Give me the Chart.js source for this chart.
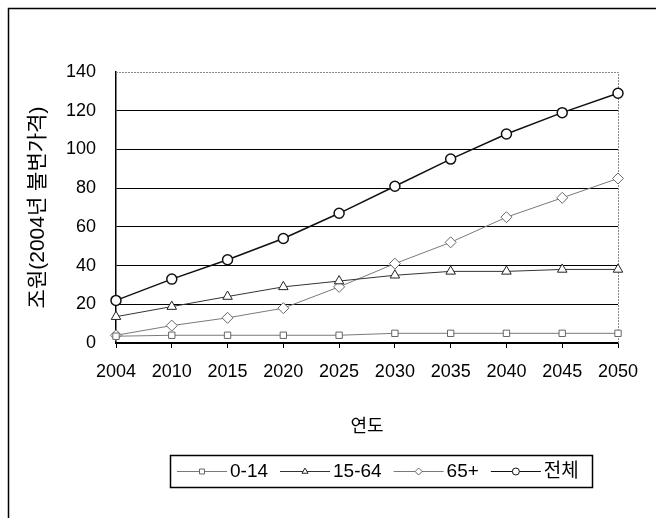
<!DOCTYPE html>
<html lang="ko">
<head>
<meta charset="utf-8">
<title>연령별 인구 부양 비용 전망</title>
<script src="https://cdn.jsdelivr.net/npm/chart.js@4/dist/chart.umd.min.js"></script>
<style>
    html, body { margin: 0; padding: 0; background: #fff; }
    canvas { display: block; }
</style>
</head>
<body>
<canvas id="myLineChart" width="656" height="518"></canvas>
<script>
const years = ['2004', '2010', '2015', '2020', '2025', '2030', '2035', '2040', '2045', '2050'];
const age0to14 = [3.5, 4, 4, 4, 4, 5, 5, 5, 5, 5];
const age15to64 = [13.6, 18.8, 24, 29, 32, 35, 37, 37, 38, 38];
const age65plus = [4, 9, 13, 18, 29, 41, 52, 65, 75, 85];
const allAges = [22, 33, 43, 54, 67, 81, 95, 108, 119, 129];

const FONT = '"Liberation Sans", "Noto Sans CJK KR", sans-serif';

const data = {
    labels: years,
    datasets: [
        {
            label: '0-14',
            data: age0to14,
            borderColor: '#7a7a7a',
            borderWidth: 1,
            pointStyle: 'rect',
            pointRadius: 4.5,
            pointBackgroundColor: '#fff',
            pointBorderColor: '#666'
        },
        {
            label: '15-64',
            data: age15to64,
            borderColor: '#333',
            borderWidth: 1,
            pointStyle: 'triangle',
            pointRadius: 5.5,
            pointBackgroundColor: '#fff',
            pointBorderColor: '#222'
        },
        {
            label: '65+',
            data: age65plus,
            borderColor: '#7a7a7a',
            borderWidth: 1,
            pointStyle: 'rectRot',
            pointRadius: 5.5,
            pointBackgroundColor: '#fff',
            pointBorderColor: '#666'
        },
        {
            label: '전체',
            data: allAges,
            borderColor: '#111',
            borderWidth: 1.5,
            pointStyle: 'circle',
            pointRadius: 5,
            pointBackgroundColor: '#fff',
            pointBorderColor: '#111'
        }
    ]
};

// outer frame, dotted plot border on top/right, and the boxed legend under the axis title
const framePlugin = {
    id: 'frame',
    beforeDraw(chart) {
        const ctx = chart.ctx;
        ctx.save();
        ctx.strokeStyle = '#000';
        ctx.lineWidth = 1.5;
        ctx.beginPath();
        ctx.moveTo(8.5, chart.height);
        ctx.lineTo(8.5, 8.5);
        ctx.lineTo(chart.width, 8.5);
        ctx.stroke();
        ctx.restore();
    },
    beforeDatasetsDraw(chart) {
        const {ctx, chartArea: a} = chart;
        ctx.save();
        ctx.strokeStyle = '#888';
        ctx.lineWidth = 1;
        ctx.setLineDash([2, 1]);
        ctx.beginPath();
        ctx.moveTo(a.left, a.top + 0.5);
        ctx.lineTo(a.right + 0.5, a.top + 0.5);
        ctx.lineTo(a.right + 0.5, a.bottom);
        ctx.stroke();
        ctx.restore();
    },
    afterDraw(chart) {
        const ctx = chart.ctx;
        const box = {x: 170, y: 455, w: 422, h: 32};
        ctx.save();
        ctx.strokeStyle = '#000';
        ctx.lineWidth = 1.5;
        ctx.strokeRect(box.x + 0.5, box.y + 0.5, box.w, box.h);

        ctx.font = '19px ' + FONT;
        ctx.textBaseline = 'middle';
        ctx.fillStyle = '#000';
        const cy = box.y + box.h / 2 + 0.5;
        let x = box.x + 7;
        chart.data.datasets.forEach(ds => {
            ctx.strokeStyle = ds.borderColor;
            ctx.lineWidth = 1;
            ctx.beginPath();
            ctx.moveTo(x, cy);
            ctx.lineTo(x + 50, cy);
            ctx.stroke();
            ctx.strokeStyle = ds.pointBorderColor;
            ctx.fillStyle = '#fff';
            Chart.helpers.drawPoint(ctx, {
                pointStyle: ds.pointStyle,
                radius: 3.5,
                borderWidth: 1,
                rotation: 0
            }, x + 25, cy);
            ctx.fillStyle = '#000';
            ctx.fillText(ds.label, x + 53, cy);
            x += 53 + ctx.measureText(ds.label).width + 12;
        });
        ctx.restore();
    }
};

const config = {
    type: 'line',
    data: data,
    options: {
        responsive: false,
        animation: false,
        layout: {
            padding: {left: 26, top: 72, right: 38, bottom: 80}
        },
        elements: {
            line: {tension: 0}
        },
        scales: {
            x: {
                type: 'category',
                offset: false,
                afterFit: scale => { scale.height = 95; },
                grid: {
                    drawOnChartArea: false,
                    drawTicks: true,
                    tickLength: 5,
                    color: '#000'
                },
                border: {display: true, color: '#000', width: 1.5},
                ticks: {
                    color: '#000',
                    padding: 13,
                    maxRotation: 0,
                    autoSkip: false,
                    font: {family: FONT, size: 18}
                },
                title: {
                    display: true,
                    text: '연도',
                    color: '#000',
                    padding: 0,
                    font: {family: FONT, size: 18}
                }
            },
            y: {
                min: 0,
                max: 140,
                afterFit: scale => { scale.width = 90; },
                grid: {
                    drawTicks: false,
                    color: ctx => (ctx.tick && ctx.tick.value === 140) ? 'rgba(0,0,0,0)' : '#000',
                    lineWidth: 1
                },
                border: {display: true, color: '#000', width: 1.5},
                ticks: {
                    stepSize: 20,
                    padding: 20,
                    color: '#000',
                    font: {family: FONT, size: 18}
                },
                title: {
                    display: true,
                    text: '조원(2004년 불변가격)',
                    color: '#000',
                    padding: 0,
                    font: {family: FONT, size: 21}
                }
            }
        },
        plugins: {
            legend: {display: false},
            tooltip: {enabled: false}
        }
    },
    plugins: [framePlugin]
};

window.onload = function() {
    const ctx = document.getElementById('myLineChart').getContext('2d');
    new Chart(ctx, config);
};
</script>
</body>
</html>
